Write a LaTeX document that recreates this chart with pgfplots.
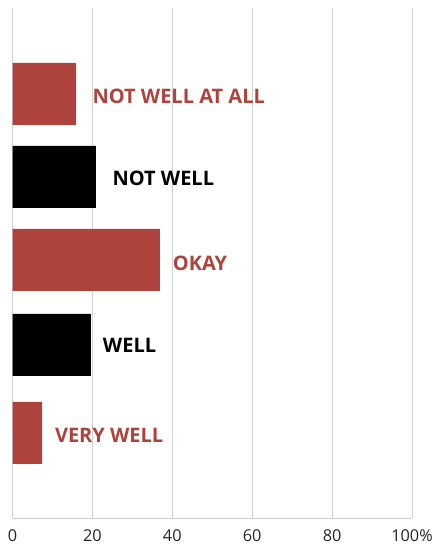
\documentclass[border=0pt]{standalone}
\usepackage{pgfplots}
\pgfplotsset{compat=1.18}
\usepackage{fontspec}
\setmainfont{Open Sans}
\definecolor{barred}{HTML}{AE423D}
\definecolor{gridgray}{HTML}{D0D0D0}
\begin{document}
\begin{tikzpicture}
\path[use as bounding box] (-12.5bp,-26bp) rectangle (419.5bp,518bp);
\begin{axis}[
  at={(0,0)}, anchor=south west,
  scale only axis,
  width=399.5bp, height=510bp,
  xmin=0, xmax=100, ymin=0, ymax=510,
  xbar, bar width=62, bar shift=0pt,
  axis x line*=bottom, axis y line*=left,
  axis line style={gridgray, line width=1bp, -},
  ytick=\empty,
  xtick={0,20,40,60,80,100},
  xticklabels={0,20,40,60,80,100\%},
  major tick length=0pt,
  xmajorgrids,
  grid style={gridgray, line width=0.9bp},
  xticklabel style={font=\fontsize{16.3bp}{18bp}\selectfont, text=black!85, anchor=base, yshift=-23bp, inner sep=0pt},
  clip=false,
]
\addplot[fill=barred, draw=none] coordinates {(15.9,424) (36.9,258) (7.4,85)};
\addplot[fill=black, draw=none] coordinates {(20.9,341) (19.6,173)};
\begin{scope}[every node/.style={anchor=base west, inner sep=0pt, font=\fontsize{20bp}{24bp}\selectfont\bfseries}]
\node[text=barred] at (axis cs:20.0,414) {NOT WELL AT ALL};
\node[text=black] at (axis cs:25.0,333) {NOT WELL};
\node[text=barred] at (axis cs:40.1,247.3) {OKAY};
\node[text=black] at (axis cs:22.6,165.3) {WELL};
\node[text=barred] at (axis cs:10.6,76) {VERY WELL};
\end{scope}
\end{axis}
\end{tikzpicture}
\end{document}
